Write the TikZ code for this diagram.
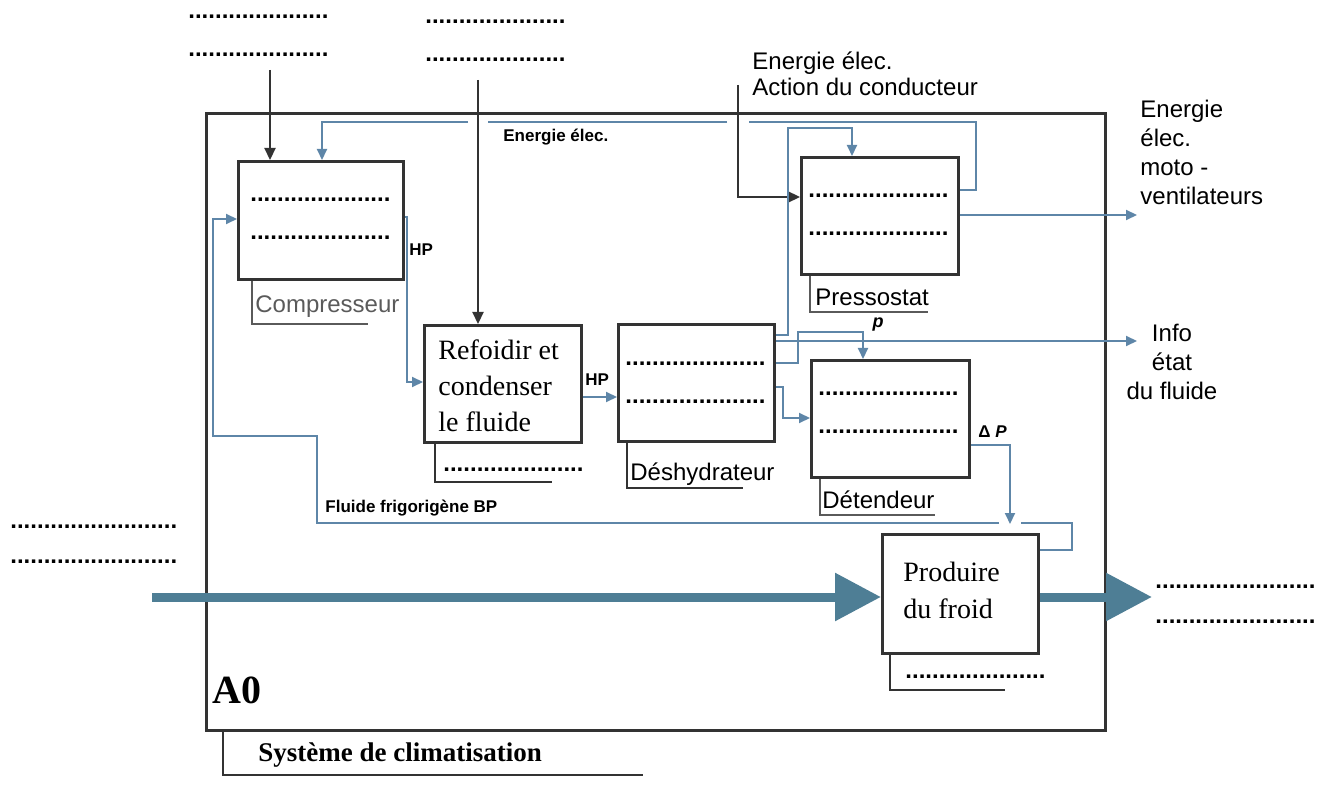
\documentclass[tikz,border=0pt]{standalone}
\usepackage{fontspec}
\setmainfont{Liberation Serif}
\setsansfont{Liberation Sans}
\usetikzlibrary{arrows.meta}
\definecolor{lblue}{HTML}{5E86A8}
\definecolor{tblue}{HTML}{4E7E95}
\definecolor{dgray}{HTML}{333333}
\definecolor{mgray}{HTML}{5A5A5A}
\begin{document}
\begin{tikzpicture}[x=0.5pt,y=-0.5pt,
  pbox/.style={draw=dgray, line width=1.4pt, anchor=north west, inner sep=0pt, minimum width=78.5pt, minimum height=58.5pt},
  lab/.style={font=\sffamily\fontsize{12}{14.5}\selectfont, inner sep=0pt},
  blab/.style={font=\sffamily\bfseries\fontsize{8.5}{10}\selectfont, inner sep=0pt},
  dotl/.style={font=\sffamily\bfseries\fontsize{12}{14}\selectfont, inner sep=0pt, anchor=west},
  bl/.style={draw=lblue, line width=1pt},
  bla/.style={bl, -{Triangle[length=5.5pt,width=5pt]}},
  darr/.style={draw=dgray, line width=1.1pt, -{Triangle[length=6pt,width=5.5pt]}},
  big/.style={draw=tblue, line width=4.5pt, -{Triangle[length=23pt,width=23pt]}},
  brk/.style={draw=dgray, line width=1pt},
  gbrk/.style={draw=mgray, line width=1pt}
]
\useasboundingbox (0,0) rectangle (1334,786);

% frame
\node[draw=dgray, line width=1.5pt, anchor=north west, inner sep=0pt, minimum width=449.5pt, minimum height=308.5pt] (frame) at (205,112) {};

% boxes
\node[pbox, minimum width=82.5pt, minimum height=59pt] (comp) at (237,160) {};
\node[pbox] (refo) at (423,324) {};
\node[pbox, minimum width=78pt] (desh) at (617,323) {};
\node[pbox] (press) at (800,156) {};
\node[pbox, minimum width=79pt] (deten) at (810,359) {};
\node[pbox, minimum width=78pt, minimum height=59.5pt] (prod) at (881,533) {};

% texts inside boxes
\node[anchor=west, align=left, inner sep=0pt, font=\fontsize{14}{18}\selectfont] (refotxt) at (438,386) {Refoidir et\\condenser\\le fluide};
\node[anchor=west, align=left, inner sep=0pt, font=\fontsize{14}{18.5}\selectfont] (prodtxt) at (903,590) {Produire\\du froid};
\node[dotl] (c1) at (250,200) {.....................};
\node[dotl] (c2) at (250,238) {.....................};
\node[dotl] (p1) at (808,196) {.....................};
\node[dotl] (p2) at (808,234) {.....................};
\node[dotl] (d1) at (625,364) {.....................};
\node[dotl] (d2) at (625,402) {.....................};
\node[dotl] (t1) at (818,394) {.....................};
\node[dotl] (t2) at (818,432) {.....................};

% outside placeholders
\node[dotl] (tl1) at (188,17) {.....................};
\node[dotl] (tl2) at (188,55) {.....................};
\node[dotl] (tm1) at (425,22) {.....................};
\node[dotl] (tm2) at (425,60) {.....................};
\node[dotl] (le1) at (10,527) {.........................};
\node[dotl] (le2) at (10,562) {.........................};
\node[dotl] (ri1) at (1155,587) {........................};
\node[dotl] (ri2) at (1155,622) {........................};

% top inputs
\coordinate (tlin) at (270,70);
\draw[darr] (tlin) -- (tlin |- comp.north);
\coordinate (tmin) at (478,80);
\draw[darr] (tmin) -- (tmin |- refo.north);

\node[lab, anchor=west] (ee1) at (752,63) {Energie élec.};
\node[lab, anchor=west] (ac1) at (752,87) {Action du conducteur};
\coordinate (acin) at (738,85);
\draw[darr] (acin) -- (738,197) -- (press.west |- 0,197);

% energy loop to compressor
\draw[bl] (press.east |- 0,190) -- (976,190) -- (976,122) -- (749,122);
\draw[bl] (727,122) -- (488,122);
\draw[bla] (468,122) -- (322,122) -- (322,0 |- comp.north);
\node[blab, anchor=west] (eel) at (503,137) {Energie élec.};

% deshydrateur -> pressostat
\draw[bla] (desh.east |- 0,335) -- (788,335) -- (788,128) -- (852,128) -- (852,0 |- press.north);

% pressostat -> moto-ventilateurs
\coordinate (moto) at (1137,215);
\draw[bla] (press.east |- moto) -- (moto);
\node[lab, align=left, anchor=north west, font=\sffamily\fontsize{12}{14.5}\selectfont] (motot) at (1140,100) {Energie\\élec.\\moto -\\ventilateurs};

% info etat
\coordinate (info) at (1137,341);
\draw[bla] (desh.east |- info) -- (info);
\node[lab, align=center] (infot) at (1172,362) {Info\\état\\du fluide};

% p -> detendeur
\draw[bla] (desh.east |- 0,363) -- (798,363) -- (798,332) -- (863,332) -- (863,0 |- deten.north);
\node[blab, font=\sffamily\bfseries\itshape\fontsize{9}{10}\selectfont] (pl) at (878,325) {p};

% desh -> detendeur
\draw[bla] (desh.east |- 0,387) -- (783,387) -- (783,418) -- (deten.west |- 0,418);

% detendeur -> produire
\draw[bla, shorten >=4.5pt] (deten.east |- 0,445) -- (1010,445) -- (1010,0 |- prod.north);
\node[blab, anchor=west] (dp) at (978,432) {Δ \textit{P}};

% compresseur -> refoidir
\draw[bla] (comp.east |- 0,217) -- (407,217) -- (407,382) -- (refo.west |- 0,382);
\node[blab, anchor=west] (hp1) at (409,250) {HP};

% refoidir -> deshydrateur
\draw[bla] (refo.east |- 0,397) -- (desh.west |- 0,397);
\node[blab, anchor=west] (hp2) at (585,380) {HP};

% feedback
\draw[bl] (prod.east |- 0,550) -- (1072,550) -- (1072,523) -- (1021,523);
\draw[bla] (999,523) -- (317,523) -- (317,436) -- (213,436) -- (213,219) -- (comp.west |- 0,219);
\node[blab, anchor=west] (fbp) at (325,508) {Fluide frigorigène BP};

% big arrows
\coordinate (bigin) at (152,597);
\draw[big] (bigin) -- (prod.west |- bigin);
\coordinate (bigout) at (1152,597);
\draw[big] (prod.east |- bigout) -- (bigout);

% brackets and labels
\draw[gbrk] (252,0 |- comp.south) -- (252,324) -- (368,324);
\node[lab, text=mgray, anchor=west] (compl) at (255,307) {Compresseur};
\draw[brk] (435,0 |- refo.south) -- (435,482) -- (552,482);
\node[dotl] (rl) at (443,470) {.....................};
\draw[brk] (627,0 |- desh.south) -- (627,488) -- (743,488);
\node[lab, anchor=west] (deshl) at (630,474) {Déshydrateur};
\draw[gbrk] (810,0 |- press.south) -- (810,312) -- (928,312);
\node[lab, anchor=west] (pressl) at (815,297) {Pressostat};
\draw[gbrk] (820,0 |- deten.south) -- (820,515) -- (935,515);
\node[lab, anchor=west] (detl) at (822,500) {Détendeur};
\draw[brk] (890,0 |- prod.south) -- (890,690) -- (1005,690);
\node[dotl] (pdl) at (905,677) {.....................};

% A0 and system
\node[anchor=west, inner sep=0pt, font=\bfseries\fontsize{20}{22}\selectfont] (a0) at (212,690) {A0};
\draw[brk] (223,0 |- frame.south) -- (223,775) -- (643,775);
\node[anchor=west, inner sep=0pt, font=\bfseries\fontsize{13.5}{15}\selectfont] (sys) at (258,755) {Système de climatisation};
\end{tikzpicture}
\end{document}
